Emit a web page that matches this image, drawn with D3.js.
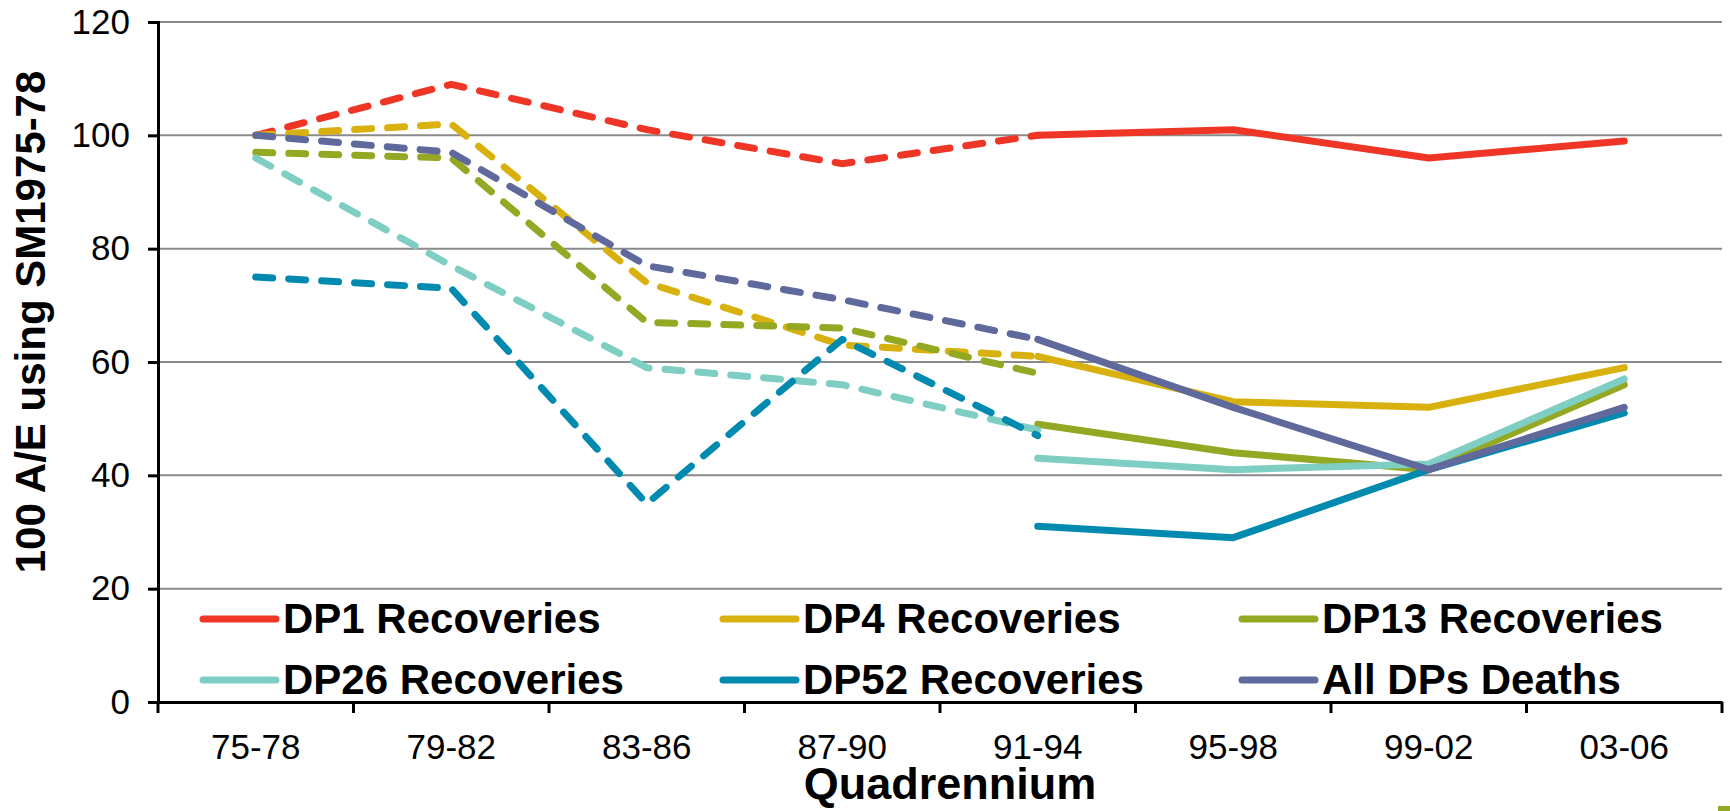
<!DOCTYPE html>
<html>
<head>
<meta charset="utf-8">
<script src="https://cdn.jsdelivr.net/npm/d3@7"></script>
<style>
  html, body { margin: 0; padding: 0; background: #fff; }
  svg { display: block; font-family: Arial, "Liberation Sans", sans-serif; }
</style>
</head>
<body>
<svg id="chart" width="1730" height="811"></svg>
<script>
// Quadrennium categories along the x axis
const categories = ["75-78", "79-82", "83-86", "87-90", "91-94", "95-98", "99-02", "03-06"];
const yTicks = [0, 20, 40, 60, 80, 100, 120];

// Earlier basis (75-78 .. 91-94), drawn dashed
const dp1Old  = [100, 109, 101, 95, 100];
const dp4Old  = [100, 102, 74, 63, 61];
const dp13Old = [97, 96, 67, 66, 58];
const dp26Old = [96, 77, 59, 56, 48];
const dp52Old = [75, 73, 35, 64, 47];
const deathsOld = [100, 97, 77, 71, 64];

// Later basis (91-94 .. 03-06), drawn solid
const dp1New  = [100, 101, 96, 99];
const dp4New  = [61, 53, 52, 59];
const dp13New = [49, 44, 41, 56];
const dp26New = [43, 41, 42, 57];
const dp52New = [31, 29, 41, 51];
const deathsNew = [64, 52, 41, 52];

const seriesNames = ["DP1 Recoveries", "DP4 Recoveries", "DP13 Recoveries",
                     "DP26 Recoveries", "DP52 Recoveries", "All DPs Deaths"];
const seriesColors = ["#EF3526", "#D9B10F", "#95A823", "#7FCEC3", "#008AB0", "#5F699C"];

const series = [
  { name: seriesNames[0], color: seriesColors[0], old: dp1Old,  cur: dp1New },
  { name: seriesNames[1], color: seriesColors[1], old: dp4Old,  cur: dp4New },
  { name: seriesNames[2], color: seriesColors[2], old: dp13Old, cur: dp13New },
  { name: seriesNames[3], color: seriesColors[3], old: dp26Old, cur: dp26New },
  { name: seriesNames[4], color: seriesColors[4], old: dp52Old, cur: dp52New },
  { name: seriesNames[5], color: seriesColors[5], old: deathsOld, cur: deathsNew }
];

const svg = d3.select("#chart");
const plot = { left: 158, right: 1722, top: 22, bottom: 702 };

const x = d3.scaleBand().domain(categories).range([plot.left, plot.right]);
const y = d3.scaleLinear().domain([0, 120]).range([plot.bottom, plot.top]);
const cx = c => x(c) + x.bandwidth() / 2;

// Horizontal gridlines
svg.append("g")
  .selectAll("line")
  .data(yTicks.filter(t => t > 0))
  .join("line")
  .attr("x1", plot.left).attr("x2", plot.right)
  .attr("y1", d => y(d)).attr("y2", d => y(d))
  .attr("stroke", "#8a8a8a").attr("stroke-width", 2);

// Y axis
const yAxis = svg.append("g")
  .attr("transform", `translate(${plot.left},0)`)
  .call(d3.axisLeft(y).tickValues(yTicks).tickSize(10).tickPadding(18));
yAxis.select(".domain").attr("stroke", "#000").attr("stroke-width", 3);
yAxis.selectAll(".tick line").attr("stroke", "#000").attr("stroke-width", 3);
yAxis.selectAll(".tick text")
  .attr("font-size", 35).attr("fill", "#000")
  .attr("font-family", "Arial, 'Liberation Sans', sans-serif");

// X axis: ticks sit on the category boundaries
const xAxis = svg.append("g")
  .attr("transform", `translate(0,${plot.bottom})`)
  .call(d3.axisBottom(x).tickSize(0).tickPadding(32));
xAxis.select(".domain").attr("stroke", "#000").attr("stroke-width", 3);
xAxis.selectAll(".tick text")
  .attr("font-size", 35).attr("fill", "#000")
  .attr("font-family", "Arial, 'Liberation Sans', sans-serif");
const bounds = categories.map(c => x(c)).concat([plot.right]);
svg.append("g")
  .selectAll("line")
  .data(bounds)
  .join("line")
  .attr("x1", d => d).attr("x2", d => d)
  .attr("y1", plot.bottom).attr("y2", plot.bottom + 11)
  .attr("stroke", "#000").attr("stroke-width", 3);

// Series lines
const line = d3.line().x(d => cx(d.c)).y(d => y(d.v));
const lines = svg.append("g").attr("fill", "none")
  .attr("stroke-width", 7).attr("stroke-linecap", "round").attr("stroke-linejoin", "round");

series.forEach(s => {
  const oldPts = s.old.map((v, i) => ({ c: categories[i], v }));
  const curPts = s.cur.map((v, i) => ({ c: categories[i + 4], v }));
  lines.append("path")
    .datum(oldPts)
    .attr("d", line)
    .attr("stroke", s.color)
    .attr("stroke-dasharray", "17,16");
  lines.append("path")
    .datum(curPts)
    .attr("d", line)
    .attr("stroke", s.color);
});

// Legend: 3 columns x 2 rows inside the plot
const legend = svg.append("g");
const colX = [203, 723, 1242];
const rowY = [619, 680];
series.forEach((s, i) => {
  const gx = colX[i % 3], gy = rowY[Math.floor(i / 3)];
  legend.append("line")
    .attr("x1", gx).attr("x2", gx + 73)
    .attr("y1", gy).attr("y2", gy)
    .attr("stroke", s.color).attr("stroke-width", 7).attr("stroke-linecap", "round");
  legend.append("text")
    .attr("x", gx + 80).attr("y", gy + 14)
    .attr("font-size", 42).attr("font-weight", "bold").attr("fill", "#000")
    .text(s.name);
});

// Axis titles
svg.append("text")
  .attr("transform", "translate(45,322) rotate(-90)")
  .attr("text-anchor", "middle")
  .attr("font-size", 42).attr("font-weight", "bold").attr("fill", "#000")
  .text("100 A/E using SM1975-78");

svg.append("text")
  .attr("x", 950).attr("y", 799)
  .attr("text-anchor", "middle")
  .attr("font-size", 45).attr("font-weight", "bold").attr("fill", "#000")
  .text("Quadrennium");

// Small corner accent
svg.append("rect")
  .attr("x", 1718).attr("y", 806).attr("width", 12).attr("height", 5)
  .attr("fill", "#95A823");
</script>
</body>
</html>
